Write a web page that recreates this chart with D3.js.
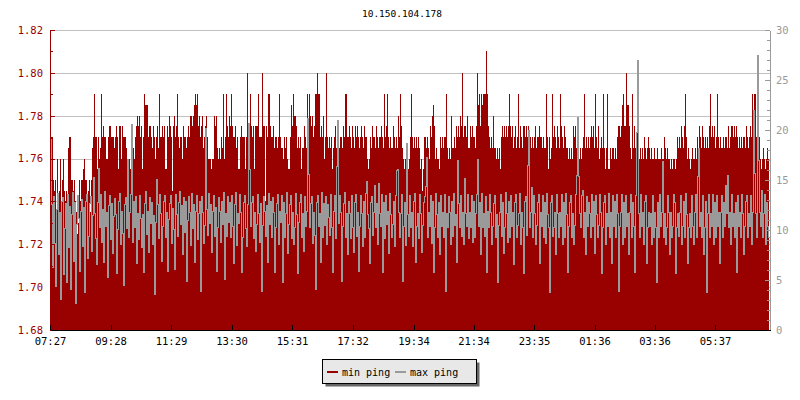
<!DOCTYPE html>
<html>
<head>
<meta charset="utf-8">
<script src="https://cdnjs.cloudflare.com/ajax/libs/d3/7.8.5/d3.min.js"></script>
<style>
body { margin: 0; background: #fff; }
svg { display: block; font-family: "DejaVu Sans Mono", monospace; }
</style>
</head>
<body>
<div id="chart"></div>
<script>
var title = "10.150.104.178";
var startTime = "07:27";
var sampleMinutes = 2;
var timeLabels = ["07:27", "09:28", "11:29", "13:30", "15:31", "17:32", "19:34", "21:34", "23:35", "01:36", "03:36", "05:37"];
var leftTicks = [1.68, 1.70, 1.72, 1.74, 1.76, 1.78, 1.80, 1.82];
var rightTicks = [0, 5, 10, 15, 20, 25, 30];
var seriesNames = ["min ping", "max ping"];
var seriesColors = ["#990000", "#9a9a9a"];

// min ping (ms), one value every 2 minutes, left axis
var minPing = [
    1.77,1.77,1.77,1.75,1.745,1.75,1.725,1.76,1.735,1.745, 1.76,1.74,1.75,1.76,1.745,1.74,1.745,1.73,1.765,1.77,
    1.77,1.75,1.75,1.745,1.75,1.74,1.735,1.725,1.73,1.75, 1.74,1.75,1.75,1.755,1.76,1.75,1.75,1.74,1.745,1.75,
    1.735,1.75,1.765,1.77,1.79,1.77,1.77,1.755,1.77,1.76, 1.765,1.79,1.77,1.775,1.77,1.77,1.76,1.76,1.77,1.775,
    1.775,1.77,1.77,1.77,1.765,1.77,1.775,1.77,1.755,1.775, 1.775,1.76,1.775,1.77,1.77,1.77,1.765,1.76,1.76,1.76,
    1.755,1.75,1.77,1.765,1.76,1.77,1.775,1.78,1.775,1.78, 1.77,1.775,1.755,1.77,1.79,1.785,1.785,1.785,1.77,1.775,
    1.775,1.77,1.765,1.775,1.77,1.76,1.77,1.775,1.765,1.79, 1.77,1.77,1.775,1.77,1.775,1.755,1.755,1.775,1.77,1.78,
    1.775,1.77,1.745,1.775,1.78,1.77,1.775,1.79,1.77,1.765, 1.77,1.77,1.76,1.775,1.77,1.77,1.765,1.77,1.775,1.77,
    1.78,1.78,1.775,1.78,1.785,1.79,1.785,1.79,1.775,1.78, 1.77,1.775,1.78,1.765,1.77,1.775,1.78,1.77,1.76,1.76,
    1.76,1.755,1.76,1.76,1.78,1.775,1.78,1.765,1.76,1.765, 1.76,1.77,1.765,1.79,1.76,1.77,1.79,1.775,1.77,1.78,
    1.775,1.79,1.775,1.77,1.77,1.775,1.765,1.77,1.755,1.755, 1.77,1.775,1.77,1.77,1.77,1.755,1.77,1.80,1.765,1.77,
    1.79,1.775,1.77,1.775,1.755,1.775,1.775,1.775,1.79,1.77, 1.77,1.77,1.80,1.775,1.775,1.74,1.775,1.77,1.79,1.79,
    1.775,1.77,1.77,1.775,1.765,1.77,1.77,1.765,1.77,1.79, 1.77,1.765,1.765,1.76,1.77,1.765,1.77,1.76,1.755,1.755,
    1.77,1.785,1.775,1.79,1.78,1.78,1.775,1.765,1.77,1.765, 1.77,1.755,1.765,1.765,1.775,1.77,1.765,1.79,1.775,1.79,
    1.78,1.775,1.78,1.77,1.775,1.79,1.79,1.80,1.79,1.79, 1.77,1.775,1.77,1.78,1.76,1.77,1.80,1.77,1.765,1.77,
    1.765,1.77,1.755,1.765,1.77,1.775,1.765,1.77,1.755,1.765, 1.77,1.77,1.765,1.775,1.77,1.79,1.79,1.77,1.77,1.775,
    1.77,1.765,1.775,1.77,1.765,1.775,1.77,1.775,1.77,1.765, 1.77,1.775,1.77,1.765,1.775,1.77,1.77,1.76,1.755,1.76,
    1.77,1.765,1.775,1.77,1.77,1.765,1.775,1.77,1.765,1.77, 1.77,1.775,1.77,1.765,1.79,1.77,1.775,1.79,1.77,1.765,
    1.77,1.765,1.765,1.775,1.77,1.765,1.77,1.765,1.78,1.77, 1.79,1.775,1.765,1.76,1.755,1.76,1.755,1.76,1.755,1.76,
    1.77,1.79,1.77,1.765,1.77,1.765,1.77,1.765,1.77,1.765, 1.755,1.76,1.745,1.755,1.77,1.77,1.765,1.77,1.765,1.76,
    1.775,1.77,1.78,1.785,1.775,1.76,1.765,1.76,1.76,1.755, 1.77,1.765,1.77,1.765,1.77,1.77,1.79,1.765,1.76,1.765,
    1.76,1.78,1.765,1.765,1.77,1.765,1.775,1.77,1.775,1.77, 1.78,1.775,1.80,1.77,1.775,1.775,1.77,1.78,1.765,1.765,
    1.775,1.77,1.775,1.77,1.77,1.765,1.775,1.80,1.785,1.79, 1.775,1.79,1.785,1.79,1.79,1.79,1.81,1.79,1.775,1.77,
    1.765,1.77,1.765,1.78,1.765,1.765,1.76,1.765,1.76,1.765, 1.755,1.77,1.775,1.77,1.775,1.77,1.775,1.77,1.775,1.79,
    1.775,1.77,1.775,1.765,1.77,1.775,1.765,1.77,1.79,1.765, 1.775,1.77,1.765,1.775,1.775,1.77,1.775,1.77,1.775,1.77,
    1.77,1.765,1.77,1.765,1.77,1.775,1.765,1.77,1.77,1.775, 1.77,1.77,1.765,1.77,1.765,1.765,1.79,1.77,1.755,1.77,
    1.76,1.765,1.79,1.77,1.775,1.77,1.765,1.775,1.77,1.765, 1.79,1.775,1.77,1.765,1.775,1.77,1.765,1.765,1.76,1.765,
    1.76,1.765,1.76,1.775,1.77,1.775,1.765,1.77,1.775,1.76, 1.765,1.76,1.765,1.77,1.79,1.765,1.77,1.765,1.77,1.765,
    1.77,1.775,1.77,1.775,1.765,1.79,1.77,1.765,1.775,1.76, 1.765,1.77,1.765,1.79,1.765,1.755,1.765,1.79,1.755,1.755,
    1.765,1.76,1.765,1.765,1.76,1.765,1.76,1.77,1.775,1.775, 1.77,1.775,1.785,1.79,1.775,1.775,1.80,1.785,1.785,1.775,
    1.765,1.76,1.79,1.765,1.775,1.765,1.77,1.775,1.765,1.76, 1.765,1.76,1.765,1.76,1.77,1.765,1.76,1.765,1.77,1.765,
    1.76,1.765,1.76,1.76,1.765,1.76,1.76,1.765,1.76,1.76, 1.76,1.765,1.76,1.76,1.77,1.765,1.76,1.765,1.76,1.76,
    1.755,1.76,1.755,1.76,1.76,1.755,1.76,1.77,1.765,1.77, 1.765,1.775,1.77,1.765,1.775,1.79,1.77,1.76,1.765,1.76,
    1.755,1.76,1.765,1.76,1.76,1.765,1.76,1.77,1.765,1.775, 1.77,1.765,1.775,1.77,1.765,1.77,1.765,1.77,1.765,1.775,
    1.79,1.77,1.775,1.77,1.775,1.765,1.77,1.79,1.77,1.765, 1.77,1.765,1.765,1.77,1.765,1.77,1.77,1.765,1.775,1.765,
    1.77,1.775,1.775,1.77,1.775,1.77,1.775,1.77,1.765,1.77, 1.765,1.77,1.765,1.77,1.77,1.765,1.775,1.77,1.765,1.77,
    1.775,1.77,1.79,1.77,1.79,1.79,1.77,1.765,1.78,1.77, 1.76,1.755,1.76,1.765,1.76,1.755,1.76,1.765,1.76,1.77
];

// max ping (ms), same samples, right axis
var maxPing = [
    3.2,19.1,12.6,6.3,13.4,8.7,4.4,12.1,13.7,7.6, 11.8,3.1,12.9,13.3,5.6,10.2,12.7,4.8,13.6,8.3,
    12.4,4.1,11.6,13.8,6.9,12.8,2.7,10.6,13.5,11.2, 5.9,11.9,13.1,8.4,12.3,3.8,12.9,13.6,7.2,9.4,
    12.7,13.4,7.9,11.5,15.3,11.7,9.2,6.6,12.8,16.2, 10.3,13.6,8.8,12.1,6.8,13.9,10.4,11.8,5.3,12.5,
    13.5,9.1,12.7,7.7,11.4,13.2,11.6,5.7,10.1,12.9, 13.7,8.6,11.9,9.7,4.5,12.6,13.3,10.2,17.1,9.3,
    11.8,13.6,20.6,8.8,12.9,10.3,13.4,6.7,11.7,9.1, 13.5,11.2,8.3,11.6,5.8,12.7,13.9,9.6,11.9,7.8,
    13.3,10.7,12.8,8.6,11.5,3.6,10.8,15.1,12.6,9.2, 13.6,11.7,6.9,10.4,12.9,13.5,9.3,11.8,5.9,11.1,
    12.7,13.5,8.7,12.2,10.1,6.1,13.6,11.6,9.4,12.8, 13.9,10.6,12.5,7.6,13.3,9.8,12.9,4.9,11.0,13.4,
    11.8,8.5,13.7,10.2,12.6,6.8,11.9,13.5,9.1,11.7, 12.9,3.9,13.4,11.8,8.7,10.5,20.2,12.1,9.5,13.7,
    10.7,12.6,7.8,11.9,13.5,9.4,12.3,5.9,10.3,13.3, 11.9,8.8,12.9,10.6,13.8,5.1,11.7,9.4,13.4,10.8,
    12.8,9.3,13.5,10.4,6.7,12.6,13.8,8.5,11.7,10.7, 13.6,11.8,5.8,9.3,12.8,13.5,10.2,8.4,12.6,20.7,
    16.1,10.4,12.8,13.4,9.2,11.8,7.9,10.6,13.6,11.7, 8.8,12.7,3.9,10.5,13.4,11.9,9.4,12.5,6.8,13.7,
    10.6,12.9,9.3,13.3,11.8,5.8,10.3,12.7,13.6,8.6, 11.9,10.8,13.5,4.8,12.8,9.3,11.7,13.8,7.7,10.6,
    12.6,13.5,9.2,11.8,8.6,10.3,13.7,11.6,5.7,10.8, 12.8,13.6,9.3,11.7,7.9,13.4,10.4,11.9,21.2,15.6,
    10.3,12.7,13.4,8.7,11.8,9.5,4.1,12.8,13.5,10.4, 11.7,6.8,13.8,9.3,12.7,10.5,13.4,8.6,12.6,11.3,
    9.5,13.6,10.3,5.8,11.9,13.5,9.2,16.4,21.0,10.7, 13.5,11.8,4.9,10.4,12.7,13.8,9.3,11.7,7.6,12.9,
    11.7,9.2,13.5,10.3,7.8,12.8,13.6,9.4,11.8,5.9, 10.4,13.5,11.7,8.4,12.9,9.3,13.7,14.9,11.6,10.2,
    6.7,12.8,13.4,9.5,11.8,14.5,10.3,12.7,8.6,14.7, 11.7,10.4,13.6,5.8,12.8,9.2,13.5,10.6,11.9,7.7,
    13.7,11.6,9.3,10.6,12.9,8.4,13.5,16.0,16.1,11.8, 9.3,11.7,13.6,4.9,10.4,12.8,8.5,18.7,11.6,9.4,
    13.5,10.3,11.8,8.4,12.9,13.7,6.8,10.4,11.7,9.2, 13.6,11.7,7.8,10.5,12.8,13.4,14.4,17.3,9.3,11.8,
    10.4,13.5,8.7,12.9,5.8,10.3,13.7,11.6,9.3,12.8, 7.6,13.5,10.4,11.8,9.3,13.6,3.9,11.7,10.3,13.4,
    11.8,8.6,12.9,9.4,13.7,10.5,11.6,6.8,17.0,12.7, 10.3,13.5,9.4,11.8,8.6,15.2,11.7,10.4,13.6,9.2,
    11.8,10.3,13.5,8.8,12.9,9.3,11.7,13.6,17.1,10.4, 12.8,7.6,13.7,10.3,11.7,9.4,13.4,5.8,11.9,10.3,
    13.6,11.8,8.6,10.4,12.7,13.5,9.3,11.6,4.8,10.5, 11.8,13.6,9.4,12.8,7.7,10.3,13.8,11.7,8.8,12.9,
    9.3,13.5,10.4,11.8,6.6,12.8,13.6,9.3,10.5,11.7, 13.7,8.6,11.8,10.3,5.7,12.9,13.4,9.5,16.5,20.0,
    10.3,11.8,14.3,9.3,13.5,11.7,8.6,10.5,12.8,13.6, 6.7,11.8,10.4,13.5,9.3,12.8,8.7,13.7,11.6,10.3,
    3.8,12.8,13.5,9.4,10.3,11.8,7.6,13.6,11.7,9.3, 11.8,10.4,13.6,8.6,12.8,9.3,13.7,11.6,5.8,10.4,
    12.8,13.5,9.3,11.7,8.6,10.5,13.6,15.5,21.3,15.4, 11.7,10.3,13.5,14.0,9.3,11.8,7.6,13.4,10.4,12.8,
    11.7,9.3,13.6,10.4,12.9,7.7,13.5,11.6,9.3,10.5, 13.6,11.8,5.7,10.3,12.8,13.5,8.6,11.7,10.4,13.7,
    9.3,11.8,6.7,13.5,10.4,12.9,9.3,13.6,11.7,3.9, 10.4,11.8,13.6,8.6,12.8,9.3,13.5,10.4,11.7,7.6,
    11.8,13.6,9.3,12.8,10.4,5.8,13.5,19.8,27.0,11.7, 9.3,13.6,10.4,11.8,8.6,12.9,13.5,6.7,10.3,11.8,
    10.4,11.7,8.6,13.5,9.3,11.8,10.3,4.8,12.8,9.3, 13.6,10.4,11.8,16.9,9.3,11.7,8.6,10.3,13.5,11.8,
    7.6,11.8,9.3,10.4,13.6,12.8,5.7,10.3,11.7,9.4, 11.8,13.5,8.6,10.4,12.9,9.3,13.7,11.6,6.7,10.3,
    11.7,9.3,13.5,10.4,8.6,11.8,13.6,9.3,15.4,18.2, 10.4,11.8,9.3,13.5,7.6,10.3,12.9,3.8,11.7,13.6,
    9.3,11.7,10.4,13.6,8.6,12.8,9.3,13.5,10.4,11.8, 6.7,11.8,13.5,9.3,12.8,10.4,14.5,11.7,15.5,10.3,
    11.8,8.6,13.6,10.4,11.7,9.3,12.8,5.8,13.5,10.4, 11.8,9.3,13.6,11.7,7.6,10.4,12.9,13.5,9.3,11.7,
    10.4,13.5,8.6,11.8,22.0,15.7,11.7,9.3,27.5,17.0, 11.8,10.4,14.0,9.3,11.7,13.6,8.6,12.8,10.4,9.3
];

var x0 = 50, x1 = 770, yTop = 30, yBot = 330;

var svg = d3.select("#chart").append("svg")
    .attr("width", 800)
    .attr("height", 400);

var parse = d3.timeParse("%H:%M");
var t0 = parse(startTime);
var times = minPing.map(function (d, i) { return d3.timeMinute.offset(t0, i * sampleMinutes); });
var tEnd = d3.timeMinute.offset(t0, minPing.length * sampleMinutes);
var tickTimes = timeLabels.map(function (s) {
    var t = parse(s);
    if (t < t0) t = d3.timeDay.offset(t, 1);
    return t;
});

var x = d3.scaleTime().domain([t0, tEnd]).range([x0, x1]);
var y = d3.scaleLinear().domain([leftTicks[0], leftTicks[leftTicks.length - 1]]).range([yBot, yTop]);
var y2 = d3.scaleLinear().domain([rightTicks[0], rightTicks[rightTicks.length - 1]]).range([yBot, yTop]);

// grid
svg.append("g").selectAll("line").data(leftTicks.slice(1)).enter().append("line")
    .attr("x1", x0).attr("x2", x1)
    .attr("y1", d => Math.round(y(d)) + 0.5).attr("y2", d => Math.round(y(d)) + 0.5)
    .attr("stroke", "#c0c0c0")
    .attr("shape-rendering", "crispEdges");

// min ping area
var area = d3.area()
    .x((d, i) => x(times[i]))
    .y0(yBot)
    .y1(d => y(d))
    .curve(d3.curveStepAfter);

svg.append("path").datum(minPing)
    .attr("d", area)
    .attr("fill", seriesColors[0])
    .attr("shape-rendering", "crispEdges");

// max ping: 1px line through every sample, each column spans from one value to the next
svg.append("g").selectAll("rect").data(maxPing).enter().append("rect")
    .attr("x", (d, i) => x(times[i]))
    .attr("width", 1)
    .attr("y", (d, i) => Math.round(y2(Math.max(d, i + 1 < maxPing.length ? maxPing[i + 1] : d))))
    .attr("height", (d, i) => Math.abs(Math.round(y2(d)) - Math.round(y2(i + 1 < maxPing.length ? maxPing[i + 1] : d))) + 1)
    .attr("fill", seriesColors[1])
    .attr("shape-rendering", "crispEdges");

// axes
function styleAxis(g, color, size) {
    g.attr("font-family", "DejaVu Sans Mono, monospace").attr("font-size", size);
    g.selectAll("path, line").attr("stroke", color).attr("shape-rendering", "crispEdges");
    g.selectAll("text").attr("fill", color);
}

svg.append("g").attr("transform", "translate(" + x0 + ",0)")
    .call(d3.axisLeft(y).ticks(14).tickSizeInner(-3).tickSizeOuter(0).tickFormat(""))
    .call(styleAxis, seriesColors[0], 10);
svg.append("g").attr("transform", "translate(" + x0 + ",0)")
    .call(d3.axisLeft(y).tickValues(leftTicks).tickSizeInner(-5).tickSizeOuter(0).tickPadding(7).tickFormat(d3.format(".2f")))
    .call(styleAxis, seriesColors[0], 10.5);

svg.append("g").attr("transform", "translate(" + x1 + ",0)")
    .call(d3.axisRight(y2).ticks(30).tickSizeInner(-3).tickSizeOuter(0).tickFormat(""))
    .call(styleAxis, seriesColors[1], 10);
svg.append("g").attr("transform", "translate(" + x1 + ",0)")
    .call(d3.axisRight(y2).tickValues(rightTicks).tickSizeInner(-5).tickSizeOuter(0).tickPadding(6))
    .call(styleAxis, seriesColors[1], 10.5);

svg.append("g").attr("transform", "translate(0," + yBot + ")")
    .call(d3.axisBottom(x).tickValues(tickTimes).tickSizeInner(-5).tickSizeOuter(0).tickPadding(8)
        .tickFormat((d, i) => timeLabels[i]))
    .call(styleAxis, "#000", 10.5);

// title
svg.append("text")
    .attr("x", 402).attr("y", 17)
    .attr("text-anchor", "middle")
    .attr("font-size", 9.5)
    .attr("fill", "#000")
    .text(title);

// legend
var legend = svg.append("g").attr("transform", "translate(322,359)");
legend.append("rect").attr("x", 3.5).attr("y", 3.5).attr("width", 154).attr("height", 24).attr("fill", "#666");
legend.append("rect").attr("x", 0.5).attr("y", 0.5).attr("width", 154).attr("height", 24)
    .attr("fill", "#e8e8e8").attr("stroke", "#000");

var item = legend.selectAll(".item").data(seriesNames).enter().append("g")
    .attr("class", "item")
    .attr("transform", (d, i) => "translate(" + (5 + i * 68) + ",0)");
item.append("line")
    .attr("x1", 0).attr("x2", 11).attr("y1", 13).attr("y2", 13)
    .attr("stroke", (d, i) => seriesColors[i]).attr("stroke-width", 2);
item.append("text")
    .attr("x", 15).attr("y", 16.5)
    .attr("font-size", 10)
    .attr("fill", "#000")
    .text(d => d);
</script>
</body>
</html>
